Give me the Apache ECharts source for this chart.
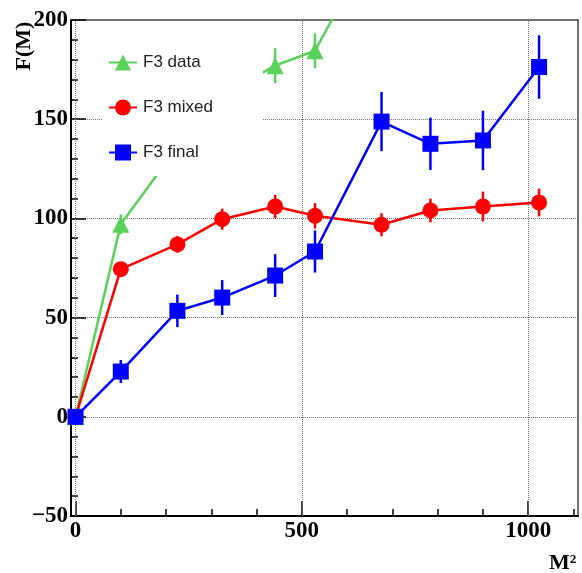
<!DOCTYPE html>
<html>
<head>
<meta charset="utf-8">
<script src="https://cdn.jsdelivr.net/npm/echarts@6/dist/echarts.min.js"></script>
<style>html,body{margin:0;padding:0;background:#fff}#c{width:582px;height:573px}</style>
</head>
<body>
<div id="c"></div>
<script>
// ---- data ----
const massSq = [0, 100, 225, 324, 441, 529, 676, 784, 900, 1024];
const dataX = [0, 100, 225, 324, 441, 529, 676];
const dataY = [0, 97, 136, 162, 177, 184.5, 246];
const dataErr = [0, 5, 6, 7, 8.8, 8.8, 10];
const mixedY = [0, 74.4, 86.9, 99.6, 106, 101.3, 96.8, 104, 106, 108];
const mixedErr = [0, 3, 4.2, 5.3, 5.9, 6.4, 5.8, 6, 7.5, 7];
const finalY = [0, 22.8, 53.4, 60.1, 71.2, 83.3, 148.8, 137.6, 139.3, 176.3];
const finalErr = [0, 5.8, 8.2, 8.8, 10.8, 10.6, 14.9, 13.2, 15, 16];
const xMajorTicks = [0, 500, 1000];
const xMinorTicks = [100, 200, 300, 400, 600, 700, 800, 900, 1100];
const seriesNames = ['F3 data', 'F3 mixed', 'F3 final'];

const GREEN = '#5ad15a', RED = '#ff0000', BLUE = '#0000ff';
const serifBold = {fontFamily: 'Liberation Serif', fontWeight: 'bold', fontSize: 23, color: '#000'};

function pts(xs, ys) { return xs.map((x, i) => [x, ys[i]]); }
function errPts(xs, ys, es) { return xs.map((x, i) => [x, ys[i], es[i]]); }
function errSeries(xs, ys, es, color) {
  return {
    type: 'custom', silent: true, clip: true, z: 2,
    data: errPts(xs, ys, es),
    renderItem: function (params, api) {
      const x = api.value(0), y = api.value(1), e = api.value(2);
      const p1 = api.coord([x, y - e]), p2 = api.coord([x, y + e]);
      return {type: 'line', shape: {x1: p1[0], y1: p1[1], x2: p2[0], y2: p2[1]},
        style: {stroke: color, lineWidth: 2.5}};
    }
  };
}

const chart = echarts.init(document.getElementById('c'), null, {renderer: 'canvas'});
chart.setOption({
  animation: false,
  backgroundColor: '#fff',
  grid: {left: 71, right: 4, top: 20, bottom: 57, containLabel: false},
  xAxis: [
    {type: 'value', min: -10, max: 1110, position: 'bottom',
      axisLine: {show: true, onZero: false, lineStyle: {color: '#000', width: 2}},
      axisTick: {show: true, inside: true, length: 15, customValues: xMajorTicks, lineStyle: {color: '#000', width: 1.5}},
      axisLabel: {show: true, customValues: xMajorTicks, margin: 4, formatter: v => String(v), ...serifBold},
      splitLine: {show: false}},
    {type: 'value', min: -10, max: 1110, position: 'bottom',
      axisLine: {show: false, onZero: false},
      axisTick: {show: true, inside: true, length: 7, customValues: xMinorTicks, lineStyle: {color: '#000', width: 1.5}},
      axisLabel: {show: false},
      splitLine: {show: false}},
    {type: 'value', min: -10, max: 1110, position: 'top',
      axisLine: {show: true, onZero: false, lineStyle: {color: '#444', width: 1.5}},
      axisTick: {show: false}, axisLabel: {show: false}, splitLine: {show: false}}
  ],
  yAxis: [
    {type: 'value', min: -50, max: 200, interval: 50, position: 'left',
      axisLine: {show: true, onZero: false, lineStyle: {color: '#000', width: 2}},
      axisTick: {show: true, inside: true, length: 15, lineStyle: {color: '#000', width: 1.5}},
      minorTick: {show: true, splitNumber: 5, length: 7, lineStyle: {color: '#000', width: 1.5}},
      axisLabel: {show: true, margin: 3, formatter: v => String(v).replace('-', '\u2212'), ...serifBold},
      splitLine: {show: true, showMinLine: false, showMaxLine: false, lineStyle: {color: '#777', type: 'dotted', width: 1}}},
    {type: 'value', min: -50, max: 200, position: 'right',
      axisLine: {show: true, onZero: false, lineStyle: {color: '#444', width: 1.5}},
      axisTick: {show: false}, axisLabel: {show: false}, splitLine: {show: false}}
  ],
  legend: {
    orient: 'vertical', left: 103, top: 30,
    padding: [24, 50, 15, 5],
    itemGap: 28, itemWidth: 28, itemHeight: 20,
    backgroundColor: '#fff',
    data: seriesNames,
    textStyle: {fontFamily: 'Liberation Sans', fontSize: 17, color: '#222', padding: [0, 0, 0, 1]},
    z: 10
  },
  graphic: [
    {type: 'text', x: 24, y: 46, rotation: Math.PI / 2, z: 20,
      style: {text: 'F(M)', font: 'bold 22px "Liberation Serif"', fill: '#000', textAlign: 'center', textVerticalAlign: 'middle'}},
    {type: 'text', x: 549, y: 563, z: 20,
      style: {text: 'M\u00b2', font: 'bold 22px "Liberation Serif"', fill: '#000', textAlign: 'left', textVerticalAlign: 'middle'}}
  ],
  series: [
    {type: 'line', name: 'F3 data', xAxisIndex: 0, yAxisIndex: 0, clip: true,
      data: pts(dataX, dataY), symbol: 'triangle', symbolSize: 17,
      lineStyle: {color: GREEN, width: 2.5}, itemStyle: {color: GREEN}, z: 3,
      markLine: {silent: true, symbol: 'none', label: {show: false},
        lineStyle: {color: '#777', type: 'dotted', width: 1}, z: 1,
        data: xMajorTicks.map(v => ({xAxis: v}))}},
    errSeries(dataX, dataY, dataErr, GREEN),
    {type: 'line', name: 'F3 mixed', clip: true,
      data: pts(massSq, mixedY), symbol: 'circle', symbolSize: 16,
      lineStyle: {color: RED, width: 2.5}, itemStyle: {color: RED}, z: 4},
    errSeries(massSq, mixedY, mixedErr, RED),
    {type: 'line', name: 'F3 final', clip: true,
      data: pts(massSq, finalY), symbol: 'rect', symbolSize: 16,
      lineStyle: {color: BLUE, width: 2.5}, itemStyle: {color: BLUE}, z: 5},
    errSeries(massSq, finalY, finalErr, BLUE)
  ]
});
</script>
</body>
</html>
